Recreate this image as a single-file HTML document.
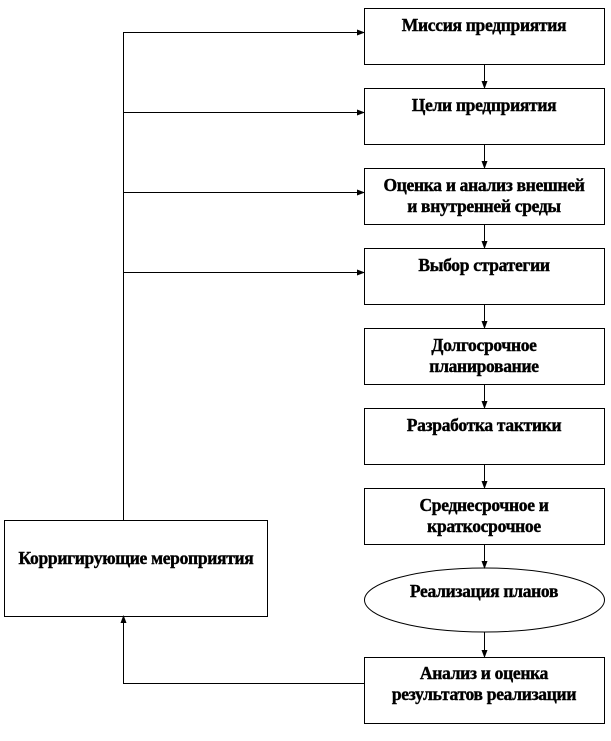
<!DOCTYPE html>
<html><head><meta charset="utf-8"><style>
body{margin:0;background:#fff;width:611px;height:736px;overflow:hidden}
text{font-family:"Liberation Serif","DejaVu Serif",serif;font-weight:bold;font-size:17.5px;text-anchor:middle;fill:#000;stroke:#000;stroke-width:0.4;letter-spacing:-0.3px}
</style></head><body>
<svg width="611" height="736" viewBox="0 0 611 736" xmlns="http://www.w3.org/2000/svg">
<defs><marker id="a" markerWidth="8" markerHeight="8" refX="7" refY="4" orient="auto" markerUnits="userSpaceOnUse"><path d="M0,1 L8,4 L0,7z" fill="#000"/></marker></defs>
<g fill="none" stroke="#000" stroke-width="1">
<rect x="364.5" y="8.5" width="240" height="56"/>
<rect x="364.5" y="88.5" width="240" height="56"/>
<rect x="364.5" y="168.5" width="240" height="56"/>
<rect x="364.5" y="248.5" width="240" height="56"/>
<rect x="364.5" y="328.5" width="240" height="56"/>
<rect x="364.5" y="408.5" width="240" height="56"/>
<rect x="364.5" y="488.5" width="240" height="56"/>
<ellipse cx="484.5" cy="600" rx="120" ry="32"/>
<rect x="364.5" y="657.5" width="240" height="66"/>
<rect x="4.5" y="520.5" width="263" height="96"/>
<path d="M484.5,64 V88" marker-end="url(#a)"/>
<path d="M484.5,144 V168" marker-end="url(#a)"/>
<path d="M484.5,224 V248" marker-end="url(#a)"/>
<path d="M484.5,304 V328" marker-end="url(#a)"/>
<path d="M484.5,384 V408" marker-end="url(#a)"/>
<path d="M484.5,464 V488" marker-end="url(#a)"/>
<path d="M484.5,544 V568" marker-end="url(#a)"/>
<path d="M484.5,632 V657" marker-end="url(#a)"/>
<path d="M123.5,520 V32.5 H364" marker-end="url(#a)"/>
<path d="M123.5,112.5 H364" marker-end="url(#a)"/>
<path d="M123.5,192.5 H364" marker-end="url(#a)"/>
<path d="M123.5,272.5 H364" marker-end="url(#a)"/>
<path d="M364,683.5 H123.5 V616" marker-end="url(#a)"/>
</g>
<text x="484" y="31">Миссия предприятия</text>
<text x="484" y="111">Цели предприятия</text>
<text x="484" y="191">Оценка и анализ внешней</text>
<text x="484" y="212">и внутренней среды</text>
<text x="484" y="271">Выбор стратегии</text>
<text x="484" y="351">Долгосрочное</text>
<text x="484" y="372">планирование</text>
<text x="484" y="431">Разработка тактики</text>
<text x="484" y="511">Среднесрочное и</text>
<text x="484" y="532">краткосрочное</text>
<text x="484" y="597">Реализация планов</text>
<text x="484" y="679">Анализ и оценка</text>
<text x="484" y="700">результатов реализации</text>
<text x="136" y="564">Корригирующие мероприятия</text>
</svg>
</body></html>
